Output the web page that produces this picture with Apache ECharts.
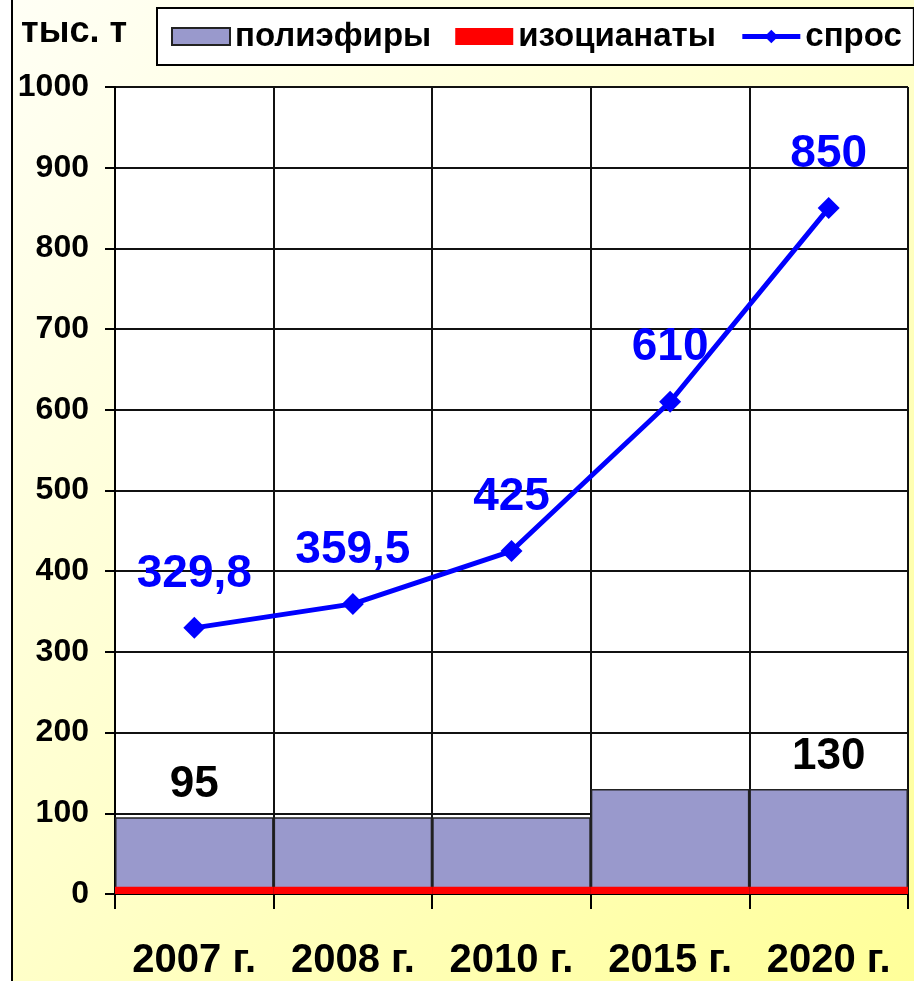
<!DOCTYPE html>
<html>
<head>
<meta charset="utf-8">
<script src="https://cdn.jsdelivr.net/npm/echarts@6/dist/echarts.min.js"></script>
<style>
  body { margin: 0; background: #ffffff; }
  #chart {
    width: 914px;
    height: 981px;
    background: linear-gradient(135deg, #fffff6 0%, #ffffd0 45%, #ffff99 100%);
  }
</style>
</head>
<body>
<div id="chart"></div>
<script>
// данные
const years = ['2007 г.', '2008 г.', '2010 г.', '2015 г.', '2020 г.'];
const polyesters = [95, 95, 95, 130, 130];      // полиэфиры
const isocyanates = [9, 9, 9, 9, 9];            // изоцианаты
const demand = [329.8, 359.5, 425, 610, 850];  // спрос
const yTicks = { min: 0, max: 1000, step: 100 };

const FONT = 'Liberation Sans, Arial, sans-serif';

const chart = echarts.init(document.getElementById('chart'));

const option = {
  backgroundColor: 'transparent',
  animation: false,
  textStyle: { fontFamily: FONT },
  graphic: [
    // белая полоса слева и рамка
    { type: 'rect', left: 0, top: 0, shape: { width: 11, height: 981 }, style: { fill: '#ffffff' }, z: -1 },
    { type: 'rect', left: 11, top: 0, shape: { width: 2, height: 981 }, style: { fill: '#000000' }, z: -1 },
    {
      type: 'text',
      left: 21,
      top: 14,
      style: { text: 'тыс. т', font: 'bold 36px ' + FONT, fill: '#000000' },
    },
  ],
  legend: {
    left: 157,
    top: 8,
    width: 1200, // не переносить, рамка уходит за правый край
    padding: [12, 12, 12, 14],
    backgroundColor: '#ffffff',
    borderColor: '#000000',
    borderWidth: 2,
    borderRadius: 0,
    itemWidth: 58,
    itemHeight: 17,
    itemGap: 24,
    textStyle: { fontSize: 33, fontWeight: 'bold', color: '#000000', fontFamily: FONT },
    data: [
      { name: 'полиэфиры', icon: 'rect' },
      { name: 'изоцианаты', icon: 'rect' },
      { name: 'спрос', lineStyle: { width: 5 } },
    ],
  },
  grid: {
    left: 115,
    right: 6,
    top: 87,
    bottom: 86,
    show: true,
    backgroundColor: '#ffffff',
    borderWidth: 0,
  },
  xAxis: {
    type: 'category',
    data: years,
    boundaryGap: true,
    axisLine: { lineStyle: { color: '#000000', width: 2 } },
    axisTick: { show: true, length: 15, lineStyle: { color: '#000000', width: 2 } },
    splitLine: { show: true, lineStyle: { color: '#111111', width: 2 } },
    axisLabel: {
      color: '#000000',
      fontSize: 40,
      fontWeight: 'bold',
      fontFamily: FONT,
      margin: 47,
      interval: 0,
    },
  },
  yAxis: {
    type: 'value',
    min: yTicks.min,
    max: yTicks.max,
    interval: yTicks.step,
    axisLine: { show: true, lineStyle: { color: '#000000', width: 2 } },
    axisTick: { show: true, length: 10, lineStyle: { color: '#000000', width: 2 } },
    splitLine: { show: true, lineStyle: { color: '#111111', width: 2 } },
    axisLabel: {
      color: '#000000',
      fontSize: 32,
      fontWeight: 'bold',
      fontFamily: FONT,
      margin: 26,
      formatter: (v) => String(v),
    },
  },
  series: [
    {
      name: 'полиэфиры',
      type: 'bar',
      data: polyesters,
      barWidth: '100%',
      barGap: '-100%',
      itemStyle: { color: '#9999cc', borderColor: '#222222', borderWidth: 1.5 },
      label: {
        show: true,
        position: 'top',
        distance: 10,
        color: '#000000',
        fontSize: 44,
        fontWeight: 'bold',
        fontFamily: FONT,
        // подпись только у первого и последнего столбца
        formatter: (p) => (p.dataIndex === 0 || p.dataIndex === years.length - 1 ? String(p.value) : ''),
      },
      z: 2,
    },
    {
      name: 'изоцианаты',
      type: 'bar',
      data: isocyanates,
      barWidth: '100%',
      barGap: '-100%',
      itemStyle: { color: '#ff0000' },
      z: 3,
    },
    {
      name: 'спрос',
      type: 'line',
      data: demand,
      symbol: 'diamond',
      symbolSize: 22,
      lineStyle: { color: '#0000ff', width: 5 },
      itemStyle: { color: '#0000ff' },
      label: {
        show: true,
        position: 'top',
        distance: 20,
        color: '#0000ff',
        fontSize: 46,
        fontWeight: 'bold',
        fontFamily: FONT,
        formatter: (p) => String(p.value).replace('.', ','),
      },
      z: 5,
    },
  ],
};

chart.setOption(option);
</script>
</body>
</html>
